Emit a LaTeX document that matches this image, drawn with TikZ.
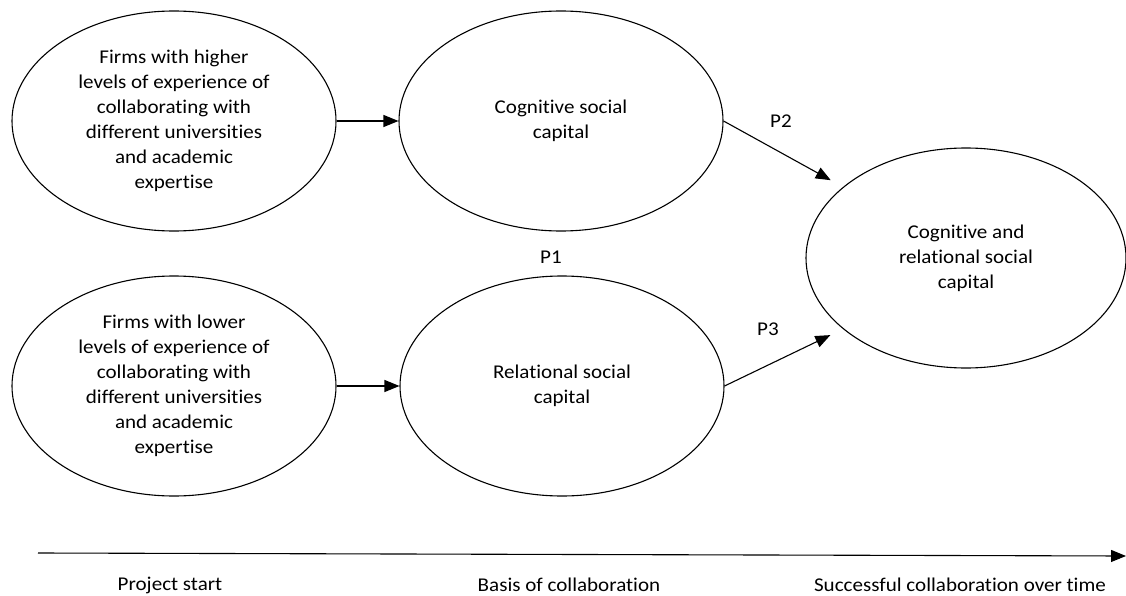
\documentclass[tikz,border=0pt]{standalone}
\usepackage{fontspec}
\setmainfont{Carlito}[Ligatures=NoCommon,FakeStretch=1.08]
\usetikzlibrary{shapes.geometric,arrows.meta}

\begin{document}
\begin{tikzpicture}[x=1pt,y=-1pt,->,>={Triangle[length=15pt,width=12pt]},line width=1.1pt,
    every node/.style={font=\fontsize{19.5}{25}\selectfont},
    main node/.style={ellipse,draw,inner sep=0pt,minimum width=324pt,minimum height=220pt,align=center}]
    \useasboundingbox (0,0) rectangle (1126,596);

    \node[main node] (high) at (174,121) {Firms with higher\\levels of experience of\\collaborating with\\different universities\\and academic\\expertise};
    \node[main node] (cog) [right of=high,node distance=387pt] {Cognitive social\\capital};
    \node[main node] (low) [below of=high,node distance=265pt] {Firms with lower\\levels of experience of\\collaborating with\\different universities\\and academic\\expertise};
    \node[main node] (rel) [right of=low,node distance=388pt] {Relational social\\capital};
    \node[main node,minimum width=320pt] (both) at (966,258) {Cognitive and\\relational social\\capital};

    \node (p1) at (551,257) {P1};
    \node (p2) at (781,121) {P2};
    \node (p3) at (768,329) {P3};

    \path
        (high) edge (cog)
        (low) edge (rel)
        (cog.east) edge[shorten >=14pt] (both.150)
        (rel.east) edge[shorten >=14pt] (both.210)
    ;

    % time line
    \coordinate (start) at (38,553);
    \coordinate (end) at (1126,556);
    \draw (start) -- (end);
    \node (t1) at (170,585) {Project start};
    \node (t2) at (569,585) {Basis of collaboration};
    \node (t3) at (960,585) {Successful collaboration over time};
\end{tikzpicture}
\end{document}
